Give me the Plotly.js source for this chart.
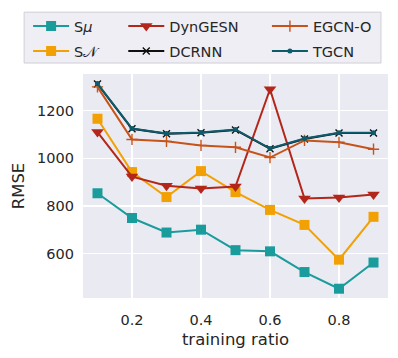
<!DOCTYPE html>
<html>
<head>
<meta charset="utf-8">
<script src="https://cdn.plot.ly/plotly-3.0.1.min.js"></script>
<style>
  html, body { margin: 0; padding: 0; background: #fff; }
  #chart { width: 398px; height: 358px; }
</style>
</head>
<body>
<div id="chart"></div>
<script>
// RMSE vs training ratio, seaborn darkgrid look
const ratios = [0.1, 0.2, 0.3, 0.4, 0.5, 0.6, 0.7, 0.8, 0.9];

const sMu     = [853, 749, 688, 700, 614, 609, 522, 452, 562];
const sN      = [1166, 942, 837, 946, 858, 783, 720, 574, 754];
const dyngesn = [1110, 923, 885, 873, 881, 1290, 831, 835, 848];
const dcrnn   = [1312, 1124, 1103, 1107, 1119, 1040, 1081, 1106, 1106];
const egcn    = [1300, 1079, 1071, 1054, 1046, 1003, 1075, 1067, 1038];
const tgcn    = [1314, 1125, 1104, 1108, 1121, 1041, 1083, 1107, 1107];

const FONT = { family: 'DejaVu Sans, sans-serif', size: 14.5, color: '#262626' };

const series = [
  { name: 'S<i>μ</i>', y: sMu, color: '#1a9c9c', symbol: 'square', size: 10, legend: 'legend' },
  { name: 'S𝒩', y: sN, color: '#f2a104', symbol: 'square', size: 10, legend: 'legend' },
  { name: 'DynGESN', y: dyngesn, color: '#b3261a', symbol: 'triangle-down', size: 11, legend: 'legend2' },
  { name: 'DCRNN', y: dcrnn, color: '#111111', symbol: 'x-thin', size: 7, legend: 'legend2' },
  { name: 'EGCN-O', y: egcn, color: '#c65319', symbol: 'cross-thin', size: 8, legend: 'legend3' },
  { name: 'TGCN', y: tgcn, color: '#0d5b6b', symbol: 'circle', size: 5, legend: 'legend3' },
];

const traces = series.map((s, i) => ({
  x: ratios,
  y: s.y,
  type: 'scatter',
  mode: 'lines+markers',
  name: s.name,
  legend: s.legend,
  legendgroup: 'g' + i,
  line: { color: s.color, width: 2 },
  marker: {
    symbol: s.symbol, size: s.size, color: s.color,
    line: { color: s.color, width: s.symbol.endsWith('thin') ? 1.4 : 0 },
  },
}));

const legendBase = {
  font: FONT, bgcolor: 'rgba(0,0,0,0)', borderwidth: 0,
  yanchor: 'top', y: 1.285, xanchor: 'left', tracegroupgap: 3,
  orientation: 'v', itemwidth: 36,
};

const layout = {
  width: 398, height: 358,
  margin: { l: 83, r: 10, t: 72, b: 60 },
  paper_bgcolor: '#ffffff',
  plot_bgcolor: '#eaeaf2',
  font: FONT,
  showlegend: true,
  xaxis: {
    range: [0.058, 0.942],
    tickvals: [0.2, 0.4, 0.6, 0.8],
    ticktext: ['0.2', '0.4', '0.6', '0.8'],
    showgrid: true, gridcolor: '#ffffff', gridwidth: 1.3,
    zeroline: false, showline: false, ticks: '',
    ticklabelstandoff: 11,
    title: { text: 'training ratio', font: { ...FONT, size: 16.5 }, standoff: 6 },
  },
  yaxis: {
    range: [413, 1354],
    tickvals: [600, 800, 1000, 1200],
    showgrid: true, gridcolor: '#ffffff', gridwidth: 1.3,
    zeroline: false, showline: false, ticks: '',
    ticklabelstandoff: 8,
    title: { text: 'RMSE', font: { ...FONT, size: 16.5 }, standoff: 8 },
  },
  legend: { ...legendBase, x: -0.18 },
  legend2: { ...legendBase, x: 0.132 },
  legend3: { ...legendBase, x: 0.603 },
  shapes: [{
    type: 'rect', xref: 'paper', yref: 'paper',
    x0: -0.193, x1: 0.977, y0: 1.049, y1: 1.276,
    fillcolor: '#eeeef4', line: { color: '#cfcfd6', width: 1 },
    layer: 'below',
  }],
};

Plotly.newPlot('chart', traces, layout, { displayModeBar: false, staticPlot: true });
</script>
</body>
</html>
